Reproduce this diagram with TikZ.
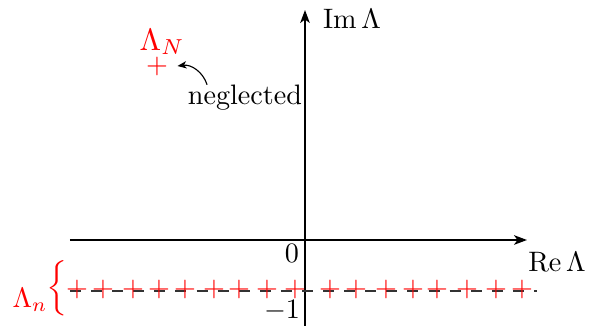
\documentclass[tikz,border=0pt]{standalone}
\usepackage{amsmath,amssymb}
\usepackage{xcolor}
\usepackage{tikz}
\usetikzlibrary{arrows.meta,positioning,calc}
\tikzset{
  axisline/.style={-{Stealth[length=4.6pt,width=3.4pt,inset=1.2pt]},line width=0.5pt},
  levelline/.style={black!80,line width=0.5pt,dash pattern=on 3.9pt off 3.6pt},
  rootmark/.style={red,inner sep=0pt},
  rootlabel/.style={red,inner sep=0pt},
  axislabel/.style={inner sep=0pt},
  notearrow/.style={-{Stealth[length=3.2pt,width=2.6pt,inset=0.9pt]},line width=0.4pt}
}

\begin{document}
\begin{tikzpicture}[x=0.0125cm,y=0.0125cm]
  \useasboundingbox (-305,-86) rectangle (285,240);
  % axes
  \coordinate (xstart) at (-235,0);
  \coordinate (xend) at (222,0);
  \coordinate (ystart) at (0,-86);
  \coordinate (yend) at (0,230);
  \draw[axisline] (xstart) -- (xend);
  \draw[axisline] (ystart) -- (yend);
  \node[axislabel] (relabel) at (252,-22) {$\operatorname{Re}\Lambda$};
  \node[axislabel] (imlabel) at (47,221) {$\operatorname{Im}\Lambda$};
  \node[axislabel] (zero) at (-13,-13) {$0$};
  \node[axislabel] (minusone) at (-23,-71) {$-1$};
  % the row of roots near -1
  \coordinate (rowstart) at (-235,-51);
  \coordinate (rowend) at (232,-51);
  \draw[levelline] (rowstart) -- (rowend);
  \foreach \x [count=\i] in {-228,-202,-172,-146,-120,-91,-66,-38,-10,25,51,81,108,132,162,191,217}
    \node[rootmark] (root\i) at (\x,-49) {$+$};
  \node[rootlabel] (brace) at (-248,-48) {\scalebox{1}[0.82]{$\bigg\{$}};
  \node[rootlabel] (lambdan) at (-275,-60) {$\Lambda_n$};
  % the far root
  \node[rootmark] (plusN) at (-148,174) {$+$};
  \node[rootlabel,scale=1.1] (lambdaN) at (-143,198) {$\Lambda_N$};
  \node[axislabel] (negl) at (-60,142) {neglected};
  \draw[notearrow] ([xshift=7pt]negl.north west) to[bend right=40] ([xshift=3.2pt]plusN.east);
\end{tikzpicture}
\end{document}
